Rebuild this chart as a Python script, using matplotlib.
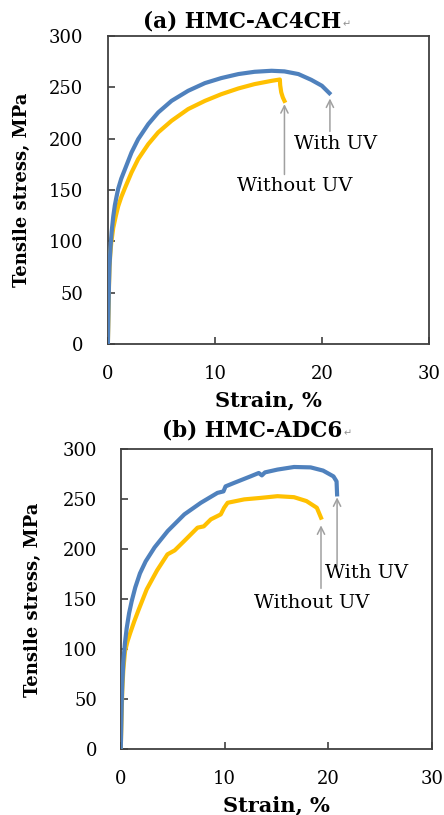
import matplotlib
matplotlib.use("Agg")
import matplotlib.pyplot as plt

plt.rcParams["font.family"] = ["DejaVu Serif"]

BLUE = "#4F81BD"
GOLD = "#FFC000"
FRAME = "#404040"
ARROW = "#A0A0A0"

# (a) HMC-AC4CH: strain %, stress MPa
a_uv_strain = [0, 0.05, 0.1, 0.15, 0.25, 0.35, 0.5, 0.65, 0.8, 0.96, 1.25, 1.59, 2.21, 2.83,
               3.77, 4.7, 5.95, 7.5, 9.07, 10.6, 12.2, 13.7, 15.3, 16.5, 17.8, 19.0, 20.0, 20.7]
a_uv_stress = [0, 30, 58, 76, 95, 109, 124, 135, 143, 151, 161, 170, 186.5, 199.4,
               214, 225.4, 236.7, 246.5, 254, 258.9, 262.8, 265, 266, 265.4, 262.8, 257.2, 251.4, 244.2]
a_no_strain = [0, 0.05, 0.1, 0.15, 0.22, 0.32, 0.5, 0.75, 0.96, 1.25, 1.6, 2.21, 2.83, 3.77,
               4.7, 5.95, 7.5, 9.07, 10.6, 12.2, 13.7, 15.3, 16.07, 16.1, 16.2, 16.35, 16.5]
a_no_stress = [0, 28, 55, 74, 87, 99, 113, 125, 134, 143, 152, 167, 180, 194.5,
               206, 217.3, 228.7, 236.7, 243.2, 248.8, 253, 256.2, 257.5, 252, 245, 240, 236.7]

# (b) HMC-ADC6
b_uv_strain = [0, 0.05, 0.1, 0.15, 0.25, 0.4, 0.57, 0.8, 1.05, 1.4, 1.85, 2.4, 3.26,
               4.53, 6.13, 7.72, 9.32, 9.9, 10.1, 10.9, 12.5, 13.3, 13.6, 13.9, 15.1,
               16.7, 18.3, 19.5, 20.5, 20.8, 20.85]
b_uv_stress = [0, 25, 50, 66, 88, 106, 121, 136, 148, 162, 176, 188, 202,
               218.4, 235, 246.6, 256.5, 258, 263, 266.4, 273, 276.4, 274, 277, 279.8,
               282.4, 282, 278.8, 273, 268, 255]
b_no_strain = [0, 0.05, 0.1, 0.15, 0.25, 0.41, 0.65, 0.9, 1.3, 1.7, 2.5, 3.5, 4.5, 5.2, 6.13,
               7.4, 8.0, 8.68, 9.64, 9.96, 10.3, 11.9, 13.5, 15.1, 16.7, 17.9, 18.9, 19.3]
b_no_stress = [0, 20, 42, 60, 80, 98, 108, 116, 128, 139, 160, 179, 195, 199, 208.5,
               221.7, 223, 230, 235, 241.6, 246.6, 250, 251.5, 253.2, 252.2, 248.3, 241.6, 231.7]

x_ticks = [0, 10, 20, 30]
y_ticks = [0, 50, 100, 150, 200, 250, 300]

panels = [
    {
        "title": "(a) HMC-AC4CH",
        "title_xy": (0.545, 0.974),
        "rect": [0.243, 0.578, 0.723, 0.378],
        "ylab_x": -0.268, "xlab_y": -0.182, "ypad": 18,
        "uv": (a_uv_strain, a_uv_stress),
        "no": (a_no_strain, a_no_stress),
        "uv_arrow": ((20.75, 207), (20.75, 239)),
        "uv_text": (21.3, 194.5),
        "no_arrow": ((16.5, 165), (16.5, 233.5)),
        "no_text": (17.5, 154),
    },
    {
        "title": "(b) HMC-ADC6",
        "title_xy": (0.568, 0.472),
        "rect": [0.272, 0.0806, 0.701, 0.368],
        "ylab_x": -0.282, "xlab_y": -0.186, "ypad": 17,
        "uv": (b_uv_strain, b_uv_stress),
        "no": (b_no_strain, b_no_stress),
        "uv_arrow": ((20.85, 183), (20.85, 252)),
        "uv_text": (23.7, 176.5),
        "no_arrow": ((19.3, 161), (19.3, 224)),
        "no_text": (18.4, 146.5),
    },
]

fig = plt.figure(figsize=(4.44, 8.15), dpi=100, facecolor="white")

for p in panels:
    ax = fig.add_axes(p["rect"])
    ax.plot(*p["no"], color=GOLD, lw=3.0, solid_joinstyle="round", zorder=3)
    ax.plot(*p["uv"], color=BLUE, lw=3.0, solid_joinstyle="round", zorder=3)
    ax.set_xlim(0, 30)
    ax.set_ylim(0, 300)
    ax.set_xticks(x_ticks)
    ax.set_yticks(y_ticks)
    ax.tick_params(direction="in", length=5, width=1.2, color=FRAME, labelsize=13)
    ax.tick_params(axis="y", pad=p["ypad"])
    ax.tick_params(axis="x", pad=15)
    for s in ax.spines.values():
        s.set_color(FRAME)
        s.set_linewidth(1.3)
    ax.set_xlabel("Strain, %", fontsize=15, fontweight="bold")
    ax.xaxis.set_label_coords(0.5, p["xlab_y"])
    ax.xaxis.label.set_va("center")
    ax.set_ylabel("Tensile stress, MPa", fontsize=13, fontweight="bold")
    ax.yaxis.set_label_coords(p["ylab_x"], 0.5)
    ax.yaxis.label.set_va("center")

    t = fig.text(*p["title_xy"], p["title"], fontsize=15.5, fontweight="bold",
                 ha="center", va="center")
    fig.canvas.draw()
    bb = t.get_window_extent().transformed(fig.transFigure.inverted())
    fig.text(bb.x1 + 0.003, bb.y0 + 0.004, "\u21b5", fontsize=7, color="#909090",
             family="DejaVu Sans", ha="left", va="bottom")

    for key_a, key_t, label in [("uv_arrow", "uv_text", "With UV"),
                                ("no_arrow", "no_text", "Without UV")]:
        (x0, y0), (x1, y1) = p[key_a]
        ax.annotate("", xy=(x1, y1), xytext=(x0, y0),
                    arrowprops=dict(arrowstyle="->", color=ARROW, lw=1.1,
                                    shrinkA=0, shrinkB=0, mutation_scale=13))
        ax.text(*p[key_t], label, fontsize=14, ha="center", va="center")

fig.savefig("out.png", dpi=100, facecolor="white")
